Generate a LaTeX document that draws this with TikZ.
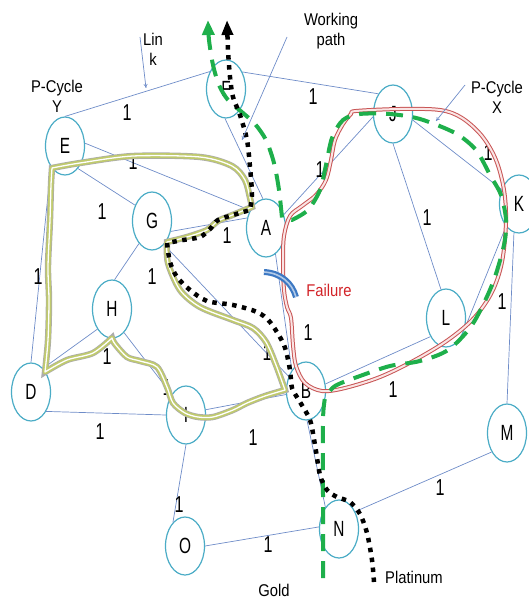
\documentclass[tikz,border=0pt]{standalone}
\usepackage{fontspec}
\setmainfont{Liberation Sans}
\newfontfamily\narrowfont[FakeStretch=0.7]{Liberation Sans}
\newfontfamily\annfont[FakeStretch=0.87]{Liberation Sans}
\usetikzlibrary{arrows.meta,shapes.geometric}
\definecolor{nodec}{RGB}{75,172,198}
\definecolor{edgec}{RGB}{110,140,200}
\definecolor{redc}{RGB}{200,85,85}
\definecolor{pinkc}{RGB}{250,228,228}
\definecolor{yelc}{RGB}{192,202,110}
\definecolor{greenc}{RGB}{30,175,75}
\definecolor{failc}{RGB}{210,35,40}
\definecolor{bluec}{RGB}{60,120,195}
\begin{document}
\begin{tikzpicture}[x=1pt,y=-1pt,
  nd/.style={ellipse, draw=nodec, line width=1.2pt, fill=white, minimum width=39pt, minimum height=58pt, inner sep=0pt, font=\narrowfont\fontsize{22}{22}\selectfont},
  edge/.style={draw=edgec, line width=0.7pt},
  one/.style={font=\narrowfont\fontsize{23}{23}\selectfont, inner sep=0pt},
  ann/.style={font=\annfont\fontsize{17}{20}\selectfont, align=center, inner sep=0pt},
  ycyc/.style={draw=yelc, line width=5pt, line join=round, preaction={draw=gray!65, line width=6.4pt}, postaction={draw=white, line width=1.3pt}},
  rcyc/.style={draw=redc, line width=4pt, line join=round, postaction={draw=pinkc, line width=2pt}},
  gpath/.style={draw=greenc, line width=4pt, dash pattern=on 17pt off 10pt, line join=round},
  bpath/.style={draw=black, line width=4.5pt, dash pattern=on 4.5pt off 5.5pt, line join=round},
  annarrow/.style={draw=edgec, line width=0.7pt, -{To[length=4pt,width=4pt]}}
]
\useasboundingbox (0,0) rectangle (529,599);

% nodes
\node[nd] (F) at (226,89) {F};
\node[nd] (E) at (65,146) {E};
\node[nd] (J) at (393,114) {J};
\node[nd] (K) at (519,204) {K};
\node[nd] (G) at (152,221) {G};
\node[nd] (A) at (266,228) {A};
\node[nd] (H) at (112,309) {H};
\node[nd] (D) at (31,392) {D};
\node[nd] (I) at (186,415) {I};
\node[nd] (L) at (446,318) {L};
\node[nd] (B) at (306,391) {B};
\node[nd] (M) at (507,433) {M};
\node[nd] (N) at (339,529) {N};
\node[nd] (O) at (185,546) {O};

% edges
\draw[edge] (E.90) -- (F.133);
\draw[edge] (E.8) -- (A.132);
\draw[edge] (E.-60) -- (G.137);
\draw[edge] (E.-124) -- (D.90);
\draw[edge] (F.46) -- (J.126);
\draw[edge] (F.-92) -- (A.96);
\draw[edge] (A.37) -- (J.188);
\draw[edge] (J.-17) -- (K.140);
\draw[edge] (J.-90) -- (L.100);
\draw[edge] (L.-28) -- (K.-120);
\draw[edge] (M.90) -- (K.-100);
\draw[edge] (B.20) -- (L.-130);
\draw[edge] (A.-70) -- (B.124);
\draw[edge] (G.-63) -- (B.140);
\draw[edge] (I.15) -- (B.190);
\draw[edge] (B.-88) -- (N.122);
\draw[edge] (G.-29) -- (A.152);
\draw[edge] (G.-120) -- (H.85);
\draw[edge] (H.-126) -- (D.63);
\draw[edge] (H.-63) -- (I.125);
\draw[edge] (D.-52) -- (I.180);
\draw[edge] (I.-90) -- (O.117);
\draw[edge] (O.0) -- (N.174);
\draw[edge] (N.47) -- (M.-129);

% edge weights
\node[one] (wEF) at (127,113) {1};
\node[one] (wEA) at (133,162) {1};
\node[one] (wFJ) at (313,97) {1};
\node[one] (wAJ) at (320,170) {1};
\node[one] (wJK) at (488,153) {1};
\node[one] (wJL) at (427,218) {1};
\node[one] (wLK) at (502,302) {1};
\node[one] (wAB) at (308,333) {1};
\node[one] (wBL) at (393,390) {1};
\node[one] (wEG) at (102,212) {1};
\node[one] (wED) at (38,277) {1};
\node[one] (wGA) at (227,236) {1};
\node[one] (wGH) at (152,277) {1};
\node[one] (wGB) at (267,353) {1};
\node[one] (wHD) at (107,357) {1};
\node[one] (wHI) at (167,388) {1};
\node[one] (wDI) at (100,432) {1};
\node[one] (wIB) at (253,438) {1};
\node[one] (wIO) at (179,505) {1};
\node[one] (wON) at (268,545) {1};
\node[one] (wNM) at (440,488) {1};

% p-cycle Y (yellow)
\draw[ycyc] plot[smooth] coordinates {(45,372) (48,340) (49,300) (48,267) (50,220) (51,185) (52,168)}
  -- plot[smooth] coordinates {(52,168) (80,163) (133,156) (200,157) (232,166) (245,180) (250,198) (252,207)}
  -- plot[smooth] coordinates {(252,207) (235,214) (218,221) (207,230) (187,237) (167,242)}
  -- plot[smooth] coordinates {(167,242) (168,263) (180,290) (200,307) (233,320) (253,328) (266,342) (276,365) (285,390)}
  -- plot[smooth] coordinates {(285,390) (265,396) (247,403) (233,410) (213,417) (198,417) (185,413) (173,403) (167,387) (157,367) (140,361) (127,357) (115,344) (112,338)}
  -- plot[smooth] coordinates {(112,338) (93,353) (67,360) (45,372)} -- cycle;

% p-cycle X (red)
\draw[rcyc] plot[smooth cycle, tension=0.55] coordinates {(356,111) (400,109) (440,110) (462,118) (482,136) (496,160) (504,190) (506,222) (502,262) (492,292) (474,318) (448,340) (415,360) (380,377) (345,388) (322,391) (305,383) (296,366) (293,345) (291,318) (287,307) (284,290) (283,262) (284,236) (290,216) (302,206) (316,195) (326,180) (331,160) (335,140) (343,124) (351,114)};

% failure
\draw[draw=bluec, line width=6pt, postaction={draw=white!60!bluec, line width=1.6pt}] (264,272) .. controls (281,273) and (292,283) .. (296,297);
\node[font=\annfont\fontsize{17}{20}\selectfont, text=failc, inner sep=0pt] (fail) at (329,290) {Failure};

% gold (green) path
\draw[gpath, -{Triangle[length=15pt,width=12pt]}]
  plot[smooth] coordinates {(323,578) (323,500) (323,420) (325,398)}
  -- plot[smooth] coordinates {(325,398) (335,386) (360,376) (390,366) (420,361) (448,350) (472,325) (492,285) (504,245) (506,220) (501,195) (490,175) (476,150) (455,133) (420,119) (390,114) (360,114) (343,120) (332,138) (326,165) (320,190) (308,210) (292,220)}
  -- plot[smooth] coordinates {(282,218) (279,190) (274,163) (266,140) (255,124) (243,113) (228,100) (219,85) (213,65) (209,40) (208,20)};

% platinum (black) path
\draw[bpath, -{Triangle[length=15pt,width=11pt]}]
  plot[smooth] coordinates {(374,582) (372,560) (367,533) (360,514) (350,502) (337,497) (327,490) (320,475) (315,445) (310,420) (300,402) (292,388) (290,370) (284,345) (270,322) (257,312) (233,305) (207,301) (190,290) (177,277) (170,262) (167,243)}
  -- plot[smooth] coordinates {(167,243) (183,240) (200,237) (210,229) (218,220) (233,215) (250,210)}
  -- plot[smooth] coordinates {(250,210) (252,195) (250,167) (247,140) (240,115) (233,97) (230,77) (228,50) (227,20)};

% annotations
\node[ann] (link) at (153,49) {Lin\\k};
\coordinate (lkA) at (140,37);
\coordinate (lkB) at (146,88);
\draw[annarrow] (lkA) -- (lkB);

\node[ann] (work) at (331,31) {Working\\path};
\coordinate (wpA) at (287,37);
\coordinate (wpB) at (242,140);
\draw[annarrow] (wpA) -- (wpB);

\node[ann] (pcx) at (497,97) {P-Cycle\\X};
\coordinate (pxA) at (465,85);
\coordinate (pxB) at (436,121);
\draw[annarrow] (pxA) -- (pxB);

\node[ann] (pcy) at (57,96) {P-Cycle\\Y};

\node[ann] (gold) at (274,590) {Gold};
\node[ann] (plat) at (414,577) {Platinum};
\end{tikzpicture}
\end{document}
